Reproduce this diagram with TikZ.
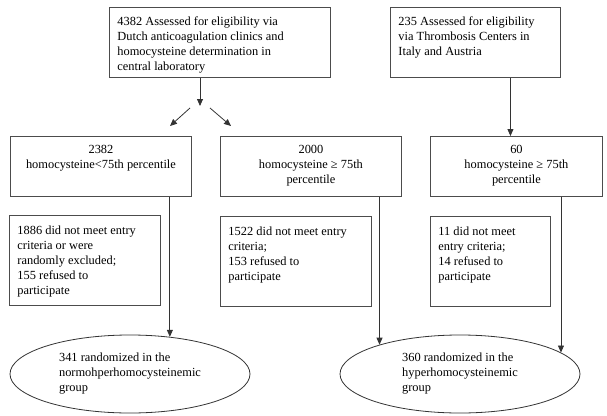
\documentclass[tikz,border=0pt]{standalone}
\usepackage{fontspec}
\setmainfont{Liberation Serif}
\usetikzlibrary{arrows.meta,shapes.geometric}
\newcommand{\boxtext}[3]{\parbox[t][#1][t]{#2}{#3}}

\begin{document}
\begin{tikzpicture}[x=1pt,y=-1pt,>={Triangle[length=7pt,width=6pt]},
 every node/.style={font=\fontsize{12.4}{15}\selectfont},
 box/.style={draw=black!70,line width=0.9pt,anchor=north west,inner xsep=8pt,inner ysep=9pt},
 group/.style={ellipse,draw=black!80,line width=0.8pt,minimum width=240pt,minimum height=78pt,
   inner sep=0pt,align=left},
 arr/.style={->,line width=0.8pt,black!80}]
    \useasboundingbox (0,0) rectangle (607,415);
    \node[box] (dutch) at (109,7)
      {\boxtext{52pt}{205pt}{\raggedright 4382 Assessed for eligibility via\\
       Dutch anticoagulation clinics and\\homocysteine determination in\\central laboratory}};
    \node[box] (italy) at (390,7)
      {\boxtext{52pt}{154pt}{\raggedright 235 Assessed for eligibility\\
       via Thrombosis Centers in\\Italy and Austria}};
    \node[box] (low) at (10,136)
      {\boxtext{42pt}{165pt}{\centering 2382\\homocysteine<75th percentile}};
    \node[box] (high) at (220,136)
      {\boxtext{42pt}{165pt}{\centering 2000\\homocysteine ≥ 75th\\percentile}};
    \node[box] (highit) at (430,136)
      {\boxtext{42pt}{156pt}{\centering 60\\homocysteine ≥ 75th\\percentile}};
    \node[box,inner ysep=10pt] (exlow) at (9,215)
      {\boxtext{70pt}{135pt}{\raggedright 1886 did not meet entry\\criteria or were\\
       randomly excluded;\\155 refused to\\participate}};
    \node[box,inner ysep=10pt] (exhigh) at (220,216)
      {\boxtext{70pt}{135pt}{\raggedright 1522 did not meet entry\\criteria;\\
       153 refused to\\participate}};
    \node[box,inner ysep=10pt] (exit) at (430,216)
      {\boxtext{70pt}{104pt}{\raggedright 11 did not meet\\entry criteria;\\
       14 refused to\\participate}};
    \node[group] (normo) at (130,374)
      {341 randomized in the\\normohperhomocysteinemic\\group};
    \node[group] (hyper) at (460,374)
      {360 randomized in the\\hyperhomocysteinemic\\group};
    \coordinate (fork) at (200,106);
    \coordinate (forkl) at (190,108);
    \coordinate (tipl) at (170,126);
    \coordinate (forkr) at (210,108);
    \coordinate (tipr) at (231,126);
    \draw[arr] (dutch.south -| fork)--(fork);
    \draw[arr] (forkl)--(tipl);
    \draw[arr] (forkr)--(tipr);
    \draw[arr] ([xshift=35pt]italy.south)--([xshift=35pt]italy.south |- highit.north);
    \draw[arr] (low.south -| normo.43)--(normo.43);
    \draw[arr] (high.south -| hyper.160)--(hyper.160);
    \draw[arr] (highit.south -| hyper.12.4)--(hyper.12.4);
\end{tikzpicture}
\end{document}
